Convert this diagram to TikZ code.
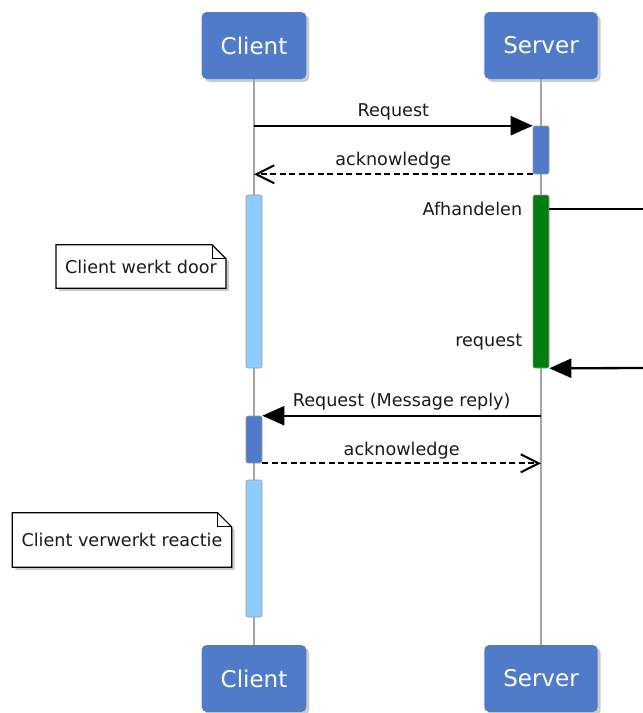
\documentclass[tikz,border=0pt]{standalone}
\usepackage{fontspec}
\setmainfont{DejaVu Sans}
\usetikzlibrary{arrows.meta,shadows}

\definecolor{headblue}{HTML}{4F7BC8}
\definecolor{actblue}{HTML}{4F7BC8}
\definecolor{actlight}{HTML}{8ECBFF}
\definecolor{actgreen}{HTML}{007F10}
\definecolor{lifegray}{HTML}{A4A4A4}
\definecolor{txtgray}{HTML}{1A1A1A}

\pgfdeclarelayer{bg}
\pgfsetlayers{bg,main}

\begin{document}
\begin{tikzpicture}
  [x=1pt,y=-1pt,every node/.style={text=txtgray,font=\fontsize{17.6}{20}\selectfont}]

  \tikzstyle{head}  = [rounded corners=5pt,fill=headblue,text=white,
                       minimum height=67pt,inner xsep=19pt,
                       font=\fontsize{23}{26}\selectfont,
                       drop shadow={shadow xshift=3pt,shadow yshift=-3pt,opacity=.4}]
  \tikzstyle{act}   = [draw=gray!80,line width=.6pt,rounded corners=2pt,
                       minimum width=16pt,inner sep=0pt]
  \tikzstyle{note}  = [inner xsep=9pt,inner ysep=0pt]
  \tikzstyle{life}  = [draw=lifegray,line width=2.6pt]
  \tikzstyle{msg}   = [line width=2.3pt,-{Triangle[length=22pt,width=19pt]}]
  \tikzstyle{reply} = [line width=2pt,dash pattern=on 6pt off 3.5pt,
                       -{Straight Barb[length=18pt,width=18pt]}]

  \useasboundingbox (0,0) rectangle (643,713);

  % lifelines
  \node[head] (cltop)  at (254,45.5)  {Client};
  \node[head] (srvtop) at (541,45.5)  {Server};
  \node[head] (cltbot) at (254,678.5) {Client};
  \node[head] (srvbot) at (541,678.5) {Server};

  \draw[life] (cltop) -- (cltbot);
  \draw[life] (srvtop) -- (srvbot);

  % activations
  \node[act,fill=actblue, minimum height=48pt]  (srvact)  at (541,150)   {};
  \node[act,fill=actlight,minimum height=173pt] (cltwork) at (254,281.5) {};
  \node[act,fill=actgreen,minimum height=173pt] (srvdo)   at (541,281.5) {};
  \node[act,fill=actblue, minimum height=47pt]  (cltact)  at (254,439.5) {};
  \node[act,fill=actlight,minimum height=137pt] (cltdo)   at (254,548.5) {};

  % notes
  \node[note,minimum height=43pt] (werkt)    at (141,266.5) {Client werkt door};
  \node[note,minimum height=54pt] (verwerkt) at (122,540)   {Client verwerkt reactie};

  \begin{pgfonlayer}{bg}
    \foreach \n in {werkt,verwerkt} {
      \draw[fill=white,line width=1.2pt,
            drop shadow={shadow xshift=3pt,shadow yshift=-3pt,opacity=.4}]
        (\n.north west) -- ([xshift=-14pt]\n.north east)
        -- ([yshift=-14pt]\n.north east) -- (\n.south east)
        -- (\n.south west) -- cycle;
      \draw[line width=.9pt] ([xshift=-14pt]\n.north east) |- ([yshift=-14pt]\n.north east);
    }
  \end{pgfonlayer}

  % messages
  \path[msg]
        (cltop |- srvact.north) edge node[above=1pt] (lblreq) {Request} (srvact.north west);
  \path[reply]
        (srvact.south west) edge node[above=1pt] (lblack) {acknowledge} (cltop |- srvact.south);

  \coordinate (selfa) at (650,209);
  \coordinate (selfb) at (650,368);
  \draw[line width=2.3pt] (srvdo.east |- selfa) -- (selfa) -- (selfb);
  \draw[msg] (selfb) -- (srvdo.south east);
  \node[anchor=east] (lblafh) at ([xshift=-7pt]srvdo.west |- selfa) {Afhandelen};
  \node[anchor=east] (lblrq)  at ([xshift=-7pt,yshift=26pt]srvdo.south west) {request};

  \path[msg]
        (srvtop |- cltact.north) edge node[above=1pt] (lblreply) {Request (Message reply)} (cltact.north east);
  \path[reply]
        (cltact.south east) edge node[above=0pt] (lblack2) {acknowledge} (srvtop |- cltact.south);
\end{tikzpicture}
\end{document}
